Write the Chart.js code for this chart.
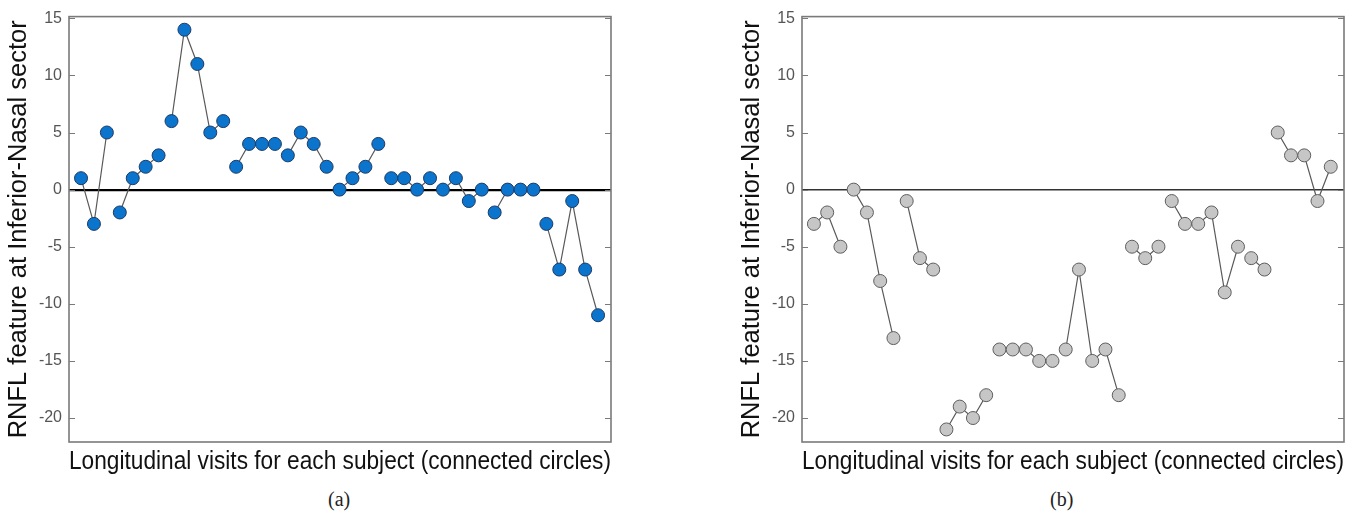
<!DOCTYPE html>
<html>
<head>
<meta charset="utf-8">
<script src="https://cdn.jsdelivr.net/npm/chart.js@4"></script>
<style>
  body { margin: 0; background: #fff; width: 1370px; height: 521px; position: relative; overflow: hidden; }
  .panel { position: absolute; top: 0; }
  .cap { position: absolute; top: 488px; font-family: "Liberation Serif", "DejaVu Serif", serif; font-size: 20px; color: #222; }
</style>
</head>
<body>
<div class="panel" style="left:0"><canvas id="chartA" width="690" height="481"></canvas></div>
<div class="panel" style="left:733px"><canvas id="chartB" width="637" height="481"></canvas></div>
<div class="cap" style="left:328px">(a)</div>
<div class="cap" style="left:1050px">(b)</div>
<script>
// y tick labels shared by both panels
const yTicks = [-20, -15, -10, -5, 0, 5, 10, 15];

// (a) one inner array per subject, visits in order
const subjectsA = [
  [1, -3, 5],
  [-2, 1, 2, 3],
  [6, 14, 11, 5, 6],
  [2, 4, 4, 4],
  [3, 5, 4, 2],
  [0, 1, 2, 4],
  [1, 1, 0, 1],
  [0, 1, -1, 0],
  [-2, 0, 0, 0],
  [-3, -7, -1, -7, -11]
];

// (b)
const subjectsB = [
  [-3, -2, -5],
  [0, -2, -8, -13],
  [-1, -6, -7],
  [-21, -19, -20, -18],
  [-14, -14, -14, -15, -15],
  [-14, -7, -15, -14, -18],
  [-5, -6, -5],
  [-1, -3, -3, -2, -9, -5],
  [-6, -7],
  [5, 3, 3, -1, 2]
];

const yTitle = 'RNFL feature at Inferior-Nasal sector';
const xTitle = 'Longitudinal visits for each subject (connected circles)';

function toDatasets(subjects, fill, edge) {
  let i = 0;
  return subjects.map(visits => ({
    data: visits.map(v => ({ x: i++, y: v })),
    borderColor: '#5a5a5a',
    borderWidth: 1.2,
    pointRadius: 6.5,
    pointHoverRadius: 6.5,
    pointBackgroundColor: fill,
    pointBorderColor: edge,
    pointBorderWidth: 1,
    tension: 0
  }));
}

// frame + inward ticks on both sides, like the original figure
const framePlugin = {
  id: 'frame',
  beforeDatasetsDraw(chart) {
    const { ctx, chartArea: a, scales: { y } } = chart;
    ctx.save();
    ctx.strokeStyle = '#7a7a7a';
    ctx.lineWidth = 1.6;
    ctx.strokeRect(a.left, a.top, a.right - a.left, a.bottom - a.top);
    ctx.lineWidth = 1;
    ctx.beginPath();
    yTicks.forEach(t => {
      const py = Math.round(y.getPixelForValue(t)) + 0.5;
      ctx.moveTo(a.left, py); ctx.lineTo(a.left + 6, py);
      ctx.moveTo(a.right, py); ctx.lineTo(a.right - 6, py);
    });
    ctx.stroke();
    ctx.restore();
  }
};

function makeChart(id, subjects, fill, edge, xMin, xMax, zeroColor, zeroWidth, padRight) {
  return new Chart(document.getElementById(id), {
    type: 'line',
    data: { datasets: toDatasets(subjects, fill, edge) },
    options: {
      responsive: false,
      animation: false,
      layout: { padding: { top: 13, right: padRight, bottom: 4, left: 0 } },
      plugins: { legend: { display: false }, tooltip: { enabled: false } },
      scales: {
        x: {
          type: 'linear',
          min: xMin,
          max: xMax,
          grid: { display: false, drawTicks: false },
          border: { display: false },
          ticks: { display: false },
          title: {
            display: true,
            text: xTitle,
            color: '#111',
            font: { family: 'Liberation Sans, Arial, sans-serif', size: 25, lineHeight: 1.2 },
            padding: { top: 5, bottom: 0 }
          }
        },
        y: {
          min: -22.1,
          max: 15.15,
          afterFit: s => { s.width = 69; },
          afterBuildTicks: s => { s.ticks = yTicks.map(v => ({ value: v })); },
          grid: {
            drawTicks: false,
            color: c => (c.tick && c.tick.value === 0 ? zeroColor : 'rgba(0,0,0,0)'),
            lineWidth: c => (c.tick && c.tick.value === 0 ? zeroWidth : 0)
          },
          border: { display: false },
          ticks: {
            padding: 7,
            color: '#555',
            font: { family: 'Liberation Sans, Arial, sans-serif', size: 16 }
          },
          title: {
            display: true,
            text: yTitle,
            color: '#111',
            font: { family: 'Liberation Sans, Arial, sans-serif', size: 25.5 },
            padding: { top: 4, bottom: 0 }
          }
        }
      }
    },
    plugins: [framePlugin]
  });
}

makeChart('chartA', subjectsA, '#0b74cc', '#1d3b66', -0.93, 41.0, '#000', 2.2, 79);
makeChart('chartB', subjectsB, '#c6c6c6', '#5e5e5e', -0.9, 40.0, '#333', 1.6, 26);
</script>
</body>
</html>
